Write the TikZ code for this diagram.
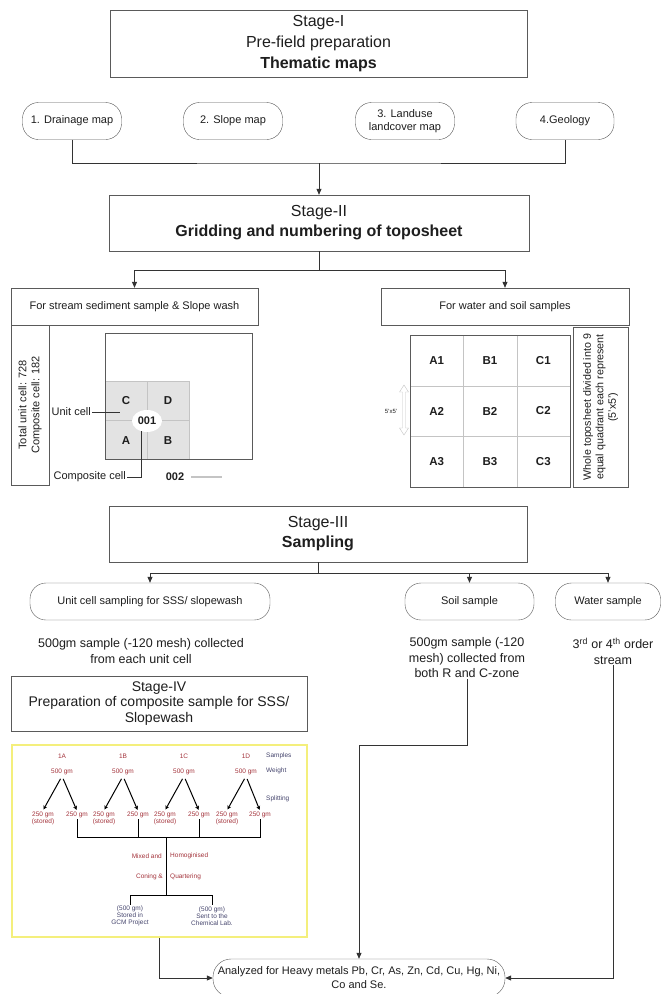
\documentclass[tikz,border=0pt]{standalone}
\usepackage{fontspec}
\setmainfont{Liberation Sans}
\usetikzlibrary{arrows.meta,shapes.geometric}

\definecolor{edge}{HTML}{5A5A5A}
\definecolor{wire}{HTML}{333333}
\definecolor{txt}{HTML}{1E1E1E}
\definecolor{cellfill}{HTML}{E3E3E3}
\definecolor{cellline}{HTML}{C4C4C4}
\definecolor{prepyellow}{HTML}{F4EF7C}
\definecolor{redtxt}{HTML}{A4343C}
\definecolor{bluetxt}{HTML}{46466E}

\begin{document}
\begin{tikzpicture}[x=1pt,y=-1pt,
	every node/.style={inner sep=1pt, align=center, text=txt},
	stagebox/.style={draw=edge, font=\fontsize{16}{20}\selectfont},
	ovalbox/.style={draw=edge, rounded corners=16pt, minimum height=37, font=\fontsize{11}{13}\selectfont},
	plainbox/.style={draw=edge, minimum height=37, font=\fontsize{11}{13}\selectfont},
	sidebox/.style={draw=edge, rotate=90, minimum width=160, font=\fontsize{11}{13}\selectfont},
	celltxt/.style={font=\bfseries\fontsize{11.5}{14}\selectfont},
	note/.style={font=\fontsize{12.5}{15.5}\selectfont},
	smallred/.style={font=\fontsize{6.5}{7}\selectfont, text=redtxt},
	smallblue/.style={font=\fontsize{6.5}{7}\selectfont, text=bluetxt},
	link/.style={draw=wire, line width=0.8},
	arr/.style={link, -{Triangle[length=6pt,width=5pt]}},
	mixline/.style={draw=black, line width=1},
	splitarr/.style={mixline, shorten <=3pt, shorten >=1pt, -{Stealth[length=4pt,width=4pt]}}
	]
	\fill[white] (0,0) rectangle (663,994);
	\useasboundingbox (0,0) rectangle (663,994);

	% Stage I
	\node[stagebox, font=\fontsize{16}{21}\selectfont, minimum width=417, minimum height=67] (stageI) at (318.5,44) {Stage-I\\Pre-field preparation\\\textbf{Thematic maps}};
	\node[ovalbox, minimum width=99] (drain) at (72,121) {1. Drainage map};
	\node[ovalbox, minimum width=99] (slope) at (233,121) {2. Slope map};
	\node[ovalbox, minimum width=99] (landuse) at (405,121) {3. Landuse\\landcover map};
	\node[ovalbox, minimum width=98] (geology) at (565,121) {4.Geology};
	\coordinate (mapjoin) at (319,163);
	\draw[link] (drain.south) |- (mapjoin) -| (geology.south);

	% Stage II
	\node[stagebox, minimum width=420, minimum height=56] (stageII) at (319,223) {Stage-II\\\textbf{Gridding and numbering of toposheet}};
	\draw[arr] (mapjoin) -- (mapjoin |- stageII.north);
	\node[plainbox, minimum width=247] (sedbox) at (134.5,306.5) {For stream sediment sample \& Slope wash};
	\node[plainbox, minimum width=248] (watbox) at (505,306.5) {For water and soil samples};
	\coordinate (gridjoin) at (319,270);
	\draw[link] (stageII.south) -- (gridjoin);
	\draw[arr] (gridjoin) -| (sedbox.north);
	\draw[arr] (gridjoin) -| (watbox.north);

	% unit and composite cells
	\node[sidebox, minimum height=38] (cellcount) at (30,405) {Total unit cell: 728\\Composite cell: 182};
	\fill[cellfill] (105,381) rectangle (189,459);
	\draw[cellline] (147,381) -- (147,459) (105,420) -- (189,420) (105,381) -- (189,381) -- (189,459);
	\node[draw=edge, line width=0.8, minimum width=147, minimum height=126] (sheet) at (178.5,396) {};
	\node[celltxt] (cC) at (126,401) {C};
	\node[celltxt] (cD) at (168,401) {D};
	\node[celltxt] (cA) at (126,441) {A};
	\node[celltxt] (cB) at (168,441) {B};
	\node[ellipse, fill=white, inner sep=0pt, minimum width=30, minimum height=22, font=\bfseries\fontsize{11}{13}\selectfont] (c001) at (147,421) {001};
	\node[font=\fontsize{11}{13}\selectfont, anchor=east] (unitlbl) at (92,412) {Unit cell};
	\coordinate (unitpt) at (120,412);
	\draw[link] (unitlbl.east) -- (unitpt);
	\node[font=\fontsize{11}{13}\selectfont, anchor=east] (complbl) at (127,477) {Composite cell};
	\draw[link] (complbl.east) -| (c001.240);
	\node[font=\bfseries\fontsize{11}{13}\selectfont] (c002) at (175,477) {002};
	\coordinate (c002end) at (222,477);
	\draw[cellline, line width=1.5] ([xshift=6pt]c002.east) -- (c002end);

	% quadrants
	\draw[cellline] (463,335) -- (463,487) (517,335) -- (517,487) (410,386) -- (570,386) (410,436) -- (570,436);
	\node[draw=edge, line width=0.8, minimum width=160, minimum height=152] (quad) at (490,411) {};
	\foreach \c/\x in {A/436.7,B/490,C/543.3}
		\foreach \r/\y in {1/360.5,2/411,3/461.5}
			\node[celltxt] (q\c\r) at (\x,\y) {\c\r};
	\node[sidebox, minimum height=55, font=\fontsize{10.7}{12.5}\selectfont] (quadnote) at (600.5,407) {Whole toposheet divided into 9\\equal quadrant each represent\\(5'x5')};
	\node[font=\fontsize{6}{7}\selectfont] (span) at (391,411) {5'x5'};
	\draw[cellline] (404,385) -- (408.5,392) -- (405.5,392) -- (405.5,428) -- (408.5,428) -- (404,435) -- (399.5,428) -- (402.5,428) -- (402.5,392) -- (399.5,392) -- cycle;

	% Stage III
	\node[stagebox, minimum width=418, minimum height=56] (stageIII) at (318,534) {Stage-III\\\textbf{Sampling}};
	\coordinate (sampjoin) at (318,573);
	\node[ovalbox, minimum width=240] (unitsamp) at (150,601.5) {Unit cell sampling for SSS/ slopewash};
	\node[ovalbox, minimum width=129] (soilsamp) at (469.5,601.5) {Soil sample};
	\node[ovalbox, minimum width=105] (watersamp) at (608,601.5) {Water sample};
	\draw[link] (stageIII.south) -- (sampjoin);
	\draw[arr] (sampjoin) -| (unitsamp.north);
	\draw[arr] (sampjoin) -| (soilsamp.north);
	\draw[arr] (sampjoin) -| (watersamp.north);
	\node[note] (unitnote) at (141,651) {500gm sample (-120 mesh) collected\\from each unit cell};
	\node[note] (soilnote) at (467,658) {500gm sample (-120\\mesh) collected from\\both R and C-zone};
	\node[note] (waternote) at (613,651) {3\textsuperscript{rd} or 4\textsuperscript{th} order\\stream};

	% Stage IV
	\node[draw=edge, minimum width=296, minimum height=55, font=\fontsize{14}{15.5}\selectfont] (stageIV) at (159,703.5) {Stage-IV\\Preparation of composite sample for SSS/\\Slopewash};
	\node[draw=prepyellow, line width=2, minimum width=295, minimum height=192] (prep) at (159.5,841) {};
	\foreach \s/\x/\a/\b in {A/62/43/77, B/123/104/138, C/184/165/199, D/246/227/260} {
		\node[smallred] (s\s) at (\x,756) {1\s};
		\node[smallred] (w\s) at (\x,772) {500 gm};
		\node[smallred] (st\s) at (\a,818) {250 gm\\(stored)};
		\node[smallred] (k\s) at (\b,815) {250 gm};
		\draw[splitarr] (w\s.south) -- (st\s.north);
		\draw[splitarr] (w\s.south) -- (k\s.north);
	}
	\node[smallblue, anchor=west] (lsamp) at (265,756) {Samples};
	\node[smallblue, anchor=west] (lwt) at (265,771) {Weight};
	\node[smallblue, anchor=west] (lsplit) at (265,799) {Splitting};
	\coordinate (mixtop) at (166,837);
	\coordinate (mixlow) at (166,895);
	\draw[mixline] (kA.south) |- (kD.south |- mixtop) -- (kD.south);
	\draw[mixline] (kB.south) -- (kB.south |- mixtop);
	\draw[mixline] (kC.south) -- (kC.south |- mixtop);
	\draw[mixline] (mixtop) -- (mixlow);
	\node[smallred, anchor=east] (mixA) at (163,856) {Mixed and};
	\node[smallred, anchor=west] (mixB) at (169,856) {Homoginised};
	\node[smallred, anchor=east] (coneA) at (164,877) {Coning \&};
	\node[smallred, anchor=west] (coneB) at (169,877) {Quartering};
	\node[smallblue] (gcm) at (130,916) {(500 gm)\\Stored in\\GCM Project};
	\node[smallblue] (lab) at (212,916) {(500 gm)\\Sent to the\\Chemical Lab.};
	\draw[mixline] (gcm.north) |- (mixlow) -| (lab.north);

	% analysis
	\node[draw=edge, rounded corners=18pt, minimum width=292, minimum height=38, font=\fontsize{11}{14}\selectfont] (analysis) at (359,978) {Analyzed for Heavy metals Pb, Cr, As, Zn, Cd, Cu, Hg, Ni,\\Co and Se.};
	\coordinate (soilbend) at (359,745);
	\draw[arr] (prep.south) |- (analysis.west);
	\draw[arr] (soilnote.south) |- (soilbend) -- (analysis.north);
	\draw[arr] (waternote.south) |- (analysis.east);
\end{tikzpicture}
\end{document}
